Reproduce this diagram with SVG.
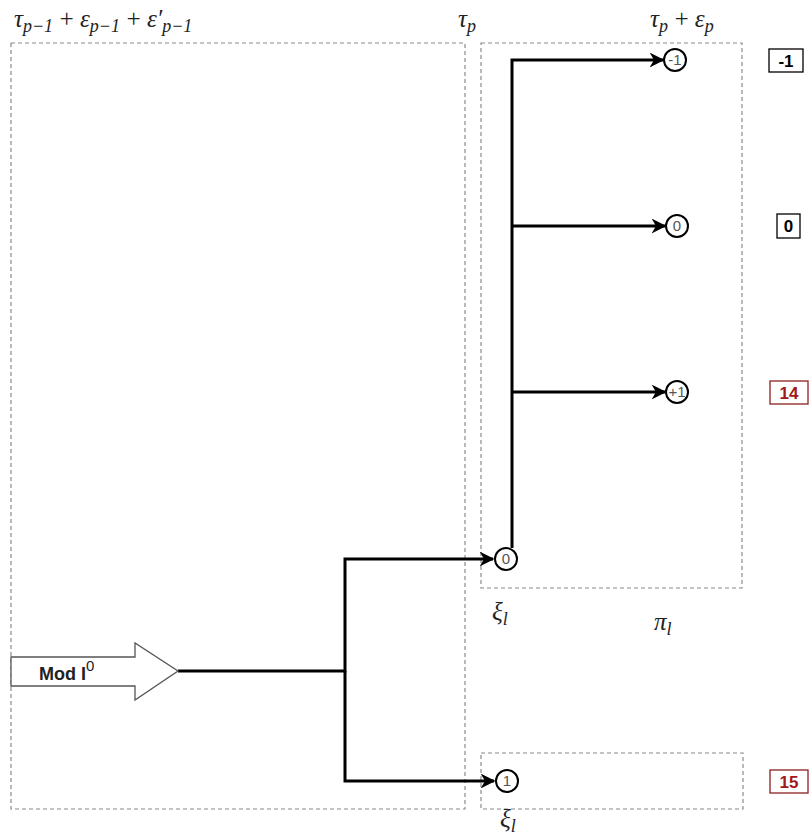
<svg xmlns="http://www.w3.org/2000/svg" width="811" height="838" viewBox="0 0 811 838">
<style>
.dash{fill:none;stroke:#8a8a8a;stroke-width:1.2;stroke-dasharray:4 3}
.conn{fill:none;stroke:#000;stroke-width:3}
.circ{fill:#fff;stroke:#000;stroke-width:2}
.ctext{font-family:"Liberation Sans",Arial,sans-serif;font-size:15px;fill:#555;text-anchor:middle}
.math{font-family:"Liberation Serif","DejaVu Serif",serif;font-style:italic;font-size:25px;fill:#222}
.sub{font-size:18px}
.lbl{font-family:"Liberation Sans",Arial,sans-serif;font-size:17px;font-weight:bold;text-anchor:middle}
</style>
<defs>
<marker id="ah" viewBox="0 0 10 10" refX="9" refY="5" markerWidth="5" markerHeight="5" markerUnits="strokeWidth" orient="auto">
<path d="M0,0 L10,5 L0,10 L3,5 Z" fill="#000"/>
</marker>
</defs>
<rect width="811" height="838" fill="#fff"/>
<g id="frames">
<rect class="dash" x="11" y="43" width="454" height="766"/>
<rect class="dash" x="481" y="43" width="261" height="545"/>
<rect class="dash" x="481" y="753" width="262" height="56"/>
</g>
<g id="headers">
<text class="math" x="14" y="27">τ<tspan class="sub" dy="5">p−1</tspan><tspan dx="5" dy="-5">+</tspan><tspan dx="5">ε</tspan><tspan class="sub" dy="5">p−1</tspan><tspan dx="5" dy="-5">+</tspan><tspan dx="5">ε′</tspan><tspan class="sub" dy="5">p−1</tspan></text>
<text class="math" x="458" y="27">τ<tspan class="sub" dy="5">p</tspan></text>
<text class="math" x="650" y="27">τ<tspan class="sub" dy="5">p</tspan><tspan dx="5" dy="-5">+</tspan><tspan dx="5">ε</tspan><tspan class="sub" dy="5">p</tspan></text>
<text class="math" x="492" y="620">ξ<tspan class="sub" dy="5">l</tspan></text>
<text class="math" x="654" y="630">π<tspan class="sub" dy="5">l</tspan></text>
<text class="math" x="500" y="827">ξ<tspan class="sub" dy="5">l</tspan></text>
</g>
<g id="connectors">
<path class="conn" d="M178,671 H345 V559 H493" marker-end="url(#ah)"/>
<path class="conn" d="M345,671 V781 H494" marker-end="url(#ah)"/>
<path class="conn" d="M512,548 V60 H663" marker-end="url(#ah)"/>
<path class="conn" d="M512,226 H665" marker-end="url(#ah)"/>
<path class="conn" d="M512,392 H665" marker-end="url(#ah)"/>
</g>
<g id="mod">
<path d="M11,657 H135 V643 L178,671 L135,700 V686 H11 Z" fill="#fff" stroke="#555" stroke-width="1.3"/>
<text x="39" y="680" font-family="Liberation Sans,Arial,sans-serif" font-size="18" font-weight="bold" fill="#222">Mod I<tspan font-size="15" font-weight="normal" dy="-9">0</tspan></text>
</g>
<g id="n-m1"><circle class="circ" cx="675" cy="60" r="11"/><text class="ctext" x="675" y="65">-1</text></g>
<g id="n-0a"><circle class="circ" cx="677" cy="226" r="11"/><text class="ctext" x="677" y="231">0</text></g>
<g id="n-p1"><circle class="circ" cx="677" cy="392" r="11"/><text class="ctext" x="677" y="397">+1</text></g>
<g id="n-0b"><circle class="circ" cx="506" cy="559" r="11"/><text class="ctext" x="506" y="564">0</text></g>
<g id="n-1"><circle class="circ" cx="507" cy="781" r="11"/><text class="ctext" x="507" y="786">1</text></g>
<g id="tag-m1"><rect x="769" y="49" width="34" height="23" fill="#fff" stroke="#000" stroke-width="1.3"/><text class="lbl" x="786" y="67" fill="#000">-1</text></g>
<g id="tag-0"><rect x="777" y="214" width="23" height="24" fill="#fff" stroke="#000" stroke-width="1.3"/><text class="lbl" x="788.5" y="232" fill="#000">0</text></g>
<g id="tag-14"><rect x="770" y="381" width="38" height="23" fill="#fff" stroke="#8b2020" stroke-width="1.3"/><text class="lbl" x="789" y="399" fill="#a01818">14</text></g>
<g id="tag-15"><rect x="770" y="770" width="38" height="23" fill="#fff" stroke="#8b2020" stroke-width="1.3"/><text class="lbl" x="789" y="788" fill="#a01818">15</text></g>
</svg>
